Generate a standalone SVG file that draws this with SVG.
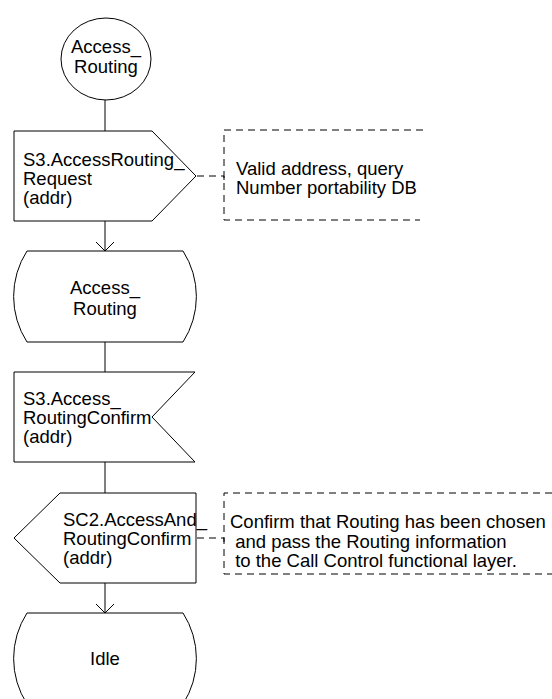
<svg xmlns="http://www.w3.org/2000/svg" width="552" height="699" viewBox="0 0 552 699">
<style>
.s{fill:#fff;stroke:#000;stroke-width:1}
.c{fill:none;stroke:#000;stroke-width:1}
.d{fill:none;stroke:#000;stroke-width:1;stroke-dasharray:7 5}
text{font-family:"Liberation Sans",Arial,sans-serif;font-size:18.5px;fill:#000}
.m{text-anchor:middle}
</style>
<defs>
<marker id="arr" viewBox="0 0 20 20" refX="10" refY="10" markerWidth="20" markerHeight="20" markerUnits="userSpaceOnUse" orient="auto">
<path d="M1,1 L10,10 L1,19" fill="none" stroke="#000" stroke-width="1"/>
</marker>
</defs>
<rect width="552" height="699" fill="#fff"/>
<g id="connectors">
<line class="c" x1="105" y1="100" x2="105" y2="131"/>
<line class="c" x1="105" y1="221" x2="105" y2="251" marker-end="url(#arr)"/>
<line class="c" x1="105" y1="342" x2="105" y2="372"/>
<line class="c" x1="105" y1="462" x2="105" y2="493"/>
<line class="c" x1="105" y1="583" x2="105" y2="613" marker-end="url(#arr)"/>
<polyline class="d" points="197,176 224,176 224,183"/>
<polyline class="d" points="197,538 224,538 224,545"/>
</g>
<g id="start">
<ellipse class="s" cx="106" cy="59" rx="45" ry="41"/>
<text class="m" x="106" y="53">Access_</text>
<text class="m" x="106" y="73">Routing</text>
</g>
<g id="input1">
<path class="s" d="M14,131 H152 L196,176 L152,221 H14 Z"/>
<text x="23" y="166">S3.AccessRouting_</text>
<text x="23" y="185">Request</text>
<text x="23" y="204">(addr)</text>
</g>
<g id="comment1">
<path class="d" d="M423,130 H224 V220 H420"/>
<text x="236" y="175">Valid address, query</text>
<text x="236" y="194">Number portability DB</text>
</g>
<g id="state1">
<path class="s" d="M27,251 H183 A84,84 0 0 1 183,342 H27 A84,84 0 0 1 27,251 Z"/>
<text class="m" x="105" y="294">Access_</text>
<text class="m" x="105" y="315">Routing</text>
</g>
<g id="output1">
<path class="s" d="M14,372 H195 L152,417 L195,462 H14 Z"/>
<text x="23" y="405">S3.Access_</text>
<text x="23" y="424">RoutingConfirm</text>
<text x="23" y="443">(addr)</text>
</g>
<g id="output2">
<path class="s" d="M60,493 H196 V583 H60 L14,538 Z"/>
<text x="63" y="526">SC2.AccessAnd_</text>
<text x="63" y="545">RoutingConfirm</text>
<text x="63" y="564">(addr)</text>
</g>
<g id="comment2">
<path class="d" d="M552,493 H224 V574 H552"/>
<text x="230" y="528" xml:space="preserve">Confirm that Routing has been chosen</text>
<text x="230" y="548" xml:space="preserve"> and pass the Routing information</text>
<text x="230" y="567" xml:space="preserve"> to the Call Control functional layer.</text>
</g>
<g id="idle">
<path class="s" d="M27,613 H183 A84,84 0 0 1 183,704 H27 A84,84 0 0 1 27,613 Z"/>
<text class="m" x="105" y="665">Idle</text>
</g>
</svg>
